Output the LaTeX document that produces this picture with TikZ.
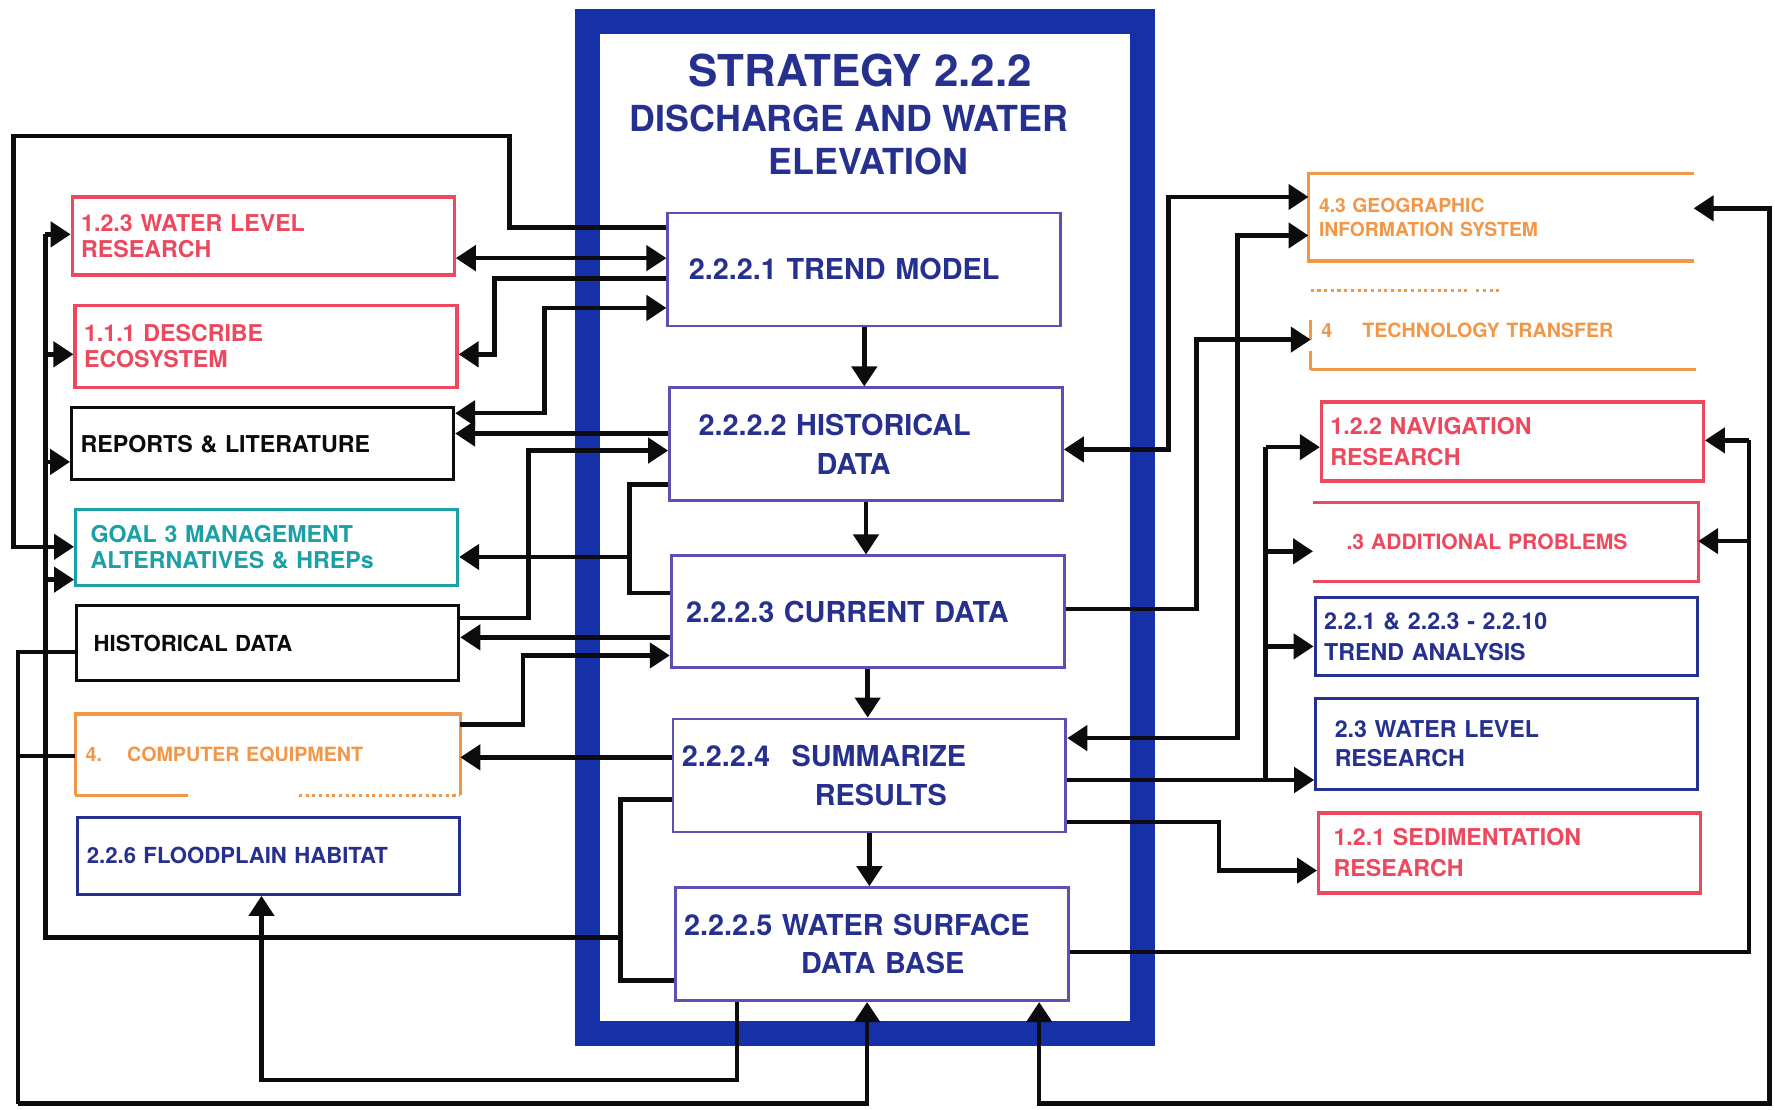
\documentclass[tikz,border=0pt]{standalone}
\usepackage{fontspec}
\setmainfont{TeX Gyre Heros}
\usetikzlibrary{arrows.meta}
\definecolor{FrameBlue}{RGB}{22,48,168}
\definecolor{InkBlue}{RGB}{38,48,142}
\definecolor{BoxViolet}{RGB}{92,80,178}
\definecolor{GoalRed}{RGB}{236,72,94}
\definecolor{GoalTeal}{RGB}{28,160,168}
\definecolor{GisOrange}{RGB}{242,150,72}
\definecolor{LinkBlack}{RGB}{12,12,14}

\begin{document}
\begin{tikzpicture}[x=0.01132cm, y=-0.01132cm,
    stepbox/.style={draw=BoxViolet, line width=0.8pt, fill=white, minimum height=1.13cm,
      text width=3.75cm, inner xsep=0.09cm, align=left, text=InkBlue,
      font=\bfseries\fontsize{8.2}{11}\selectfont},
    sidebox/.style={line width=0.9pt, fill=white, minimum height=0.78cm, text width=3.64cm,
      inner xsep=0.09cm, align=left, font=\bfseries\fontsize{6.6}{7.4}\selectfont},
    redbox/.style={sidebox, draw=GoalRed, text=GoalRed},
    bluebox/.style={sidebox, draw=InkBlue, text=InkBlue},
    blackbox/.style={sidebox, draw=LinkBlack, text=LinkBlack},
    orangebox/.style={sidebox, text=GisOrange, font=\bfseries\fontsize{5.5}{7}\selectfont},
    edge/.style={line width=0.9pt},
    link/.style={LinkBlack, line width=1.3pt},
    arr/.style={link, -{Triangle[length=2mm,width=2.5mm]}},
    darr/.style={link, {Triangle[length=2mm,width=2.5mm]}-{Triangle[length=2mm,width=2.5mm]}}]

    \fill[white] (0,0) rectangle (1568,980);
    \useasboundingbox (0,0) rectangle (1568,980);

    % Marco
    \draw[FrameBlue, line width=7pt] (519,19) rectangle (1009,913);
    \node[text=InkBlue, font=\bfseries\fontsize{12.5}{14}\selectfont] (title) at (760,62) {STRATEGY 2.2.2};
    \node[text=InkBlue, font=\bfseries\fontsize{10.2}{12}\selectfont] (subA) at (750,105) {DISCHARGE AND WATER};
    \node[text=InkBlue, font=\bfseries\fontsize{10.2}{12}\selectfont] (subB) at (767,143) {ELEVATION};

    % Pasos
    \node[stepbox] (b1) at (763.5,238) {\hspace*{0.12cm}2.2.2.1 TREND MODEL};
    \node[stepbox] (b2) at (765,392.5) {\hspace*{0.2cm}2.2.2.2 HISTORICAL\\\hspace*{1.38cm}DATA};
    \node[stepbox, minimum height=1.12cm] (b3) at (766.5,540.5) {\hspace*{0.06cm}2.2.2.3 CURRENT DATA};
    \node[stepbox] (b4) at (768,685) {2.2.2.4\hspace{0.12cm} SUMMARIZE\\\hspace*{1.33cm}RESULTS};
    \node[stepbox] (b5) at (770,834) {2.2.2.5 WATER SURFACE\\\hspace*{1.17cm}DATA BASE};

    % Izquierda
    \node[redbox] (l1) at (232.5,208.5) {1.2.3 WATER LEVEL\\RESEARCH};
    \node[redbox, minimum height=0.815cm] (l2) at (235,306) {1.1.1 DESCRIBE\\ECOSYSTEM};
    \node[blackbox, minimum height=0.72cm] (l3) at (232,392) {REPORTS \& LITERATURE};
    \node[sidebox, draw=GoalTeal, text=GoalTeal, minimum height=0.76cm] (l4) at (235.5,483.5)
      {\hspace*{0.06cm}GOAL 3 MANAGEMENT\\\hspace*{0.06cm}ALTERNATIVES \& HREPs};
    \node[blackbox, minimum height=0.75cm, font=\bfseries\fontsize{6.3}{7.4}\selectfont] (l5) at (236.5,568)
      {\hspace*{0.08cm}HISTORICAL DATA};
    \node[orangebox, font=\bfseries\fontsize{5.6}{7}\selectfont] (l6) at (236.5,666.5) {4.\hspace{0.25cm}COMPUTER EQUIPMENT};
    \draw[GisOrange, edge] (l6.south west) -- (l6.north west) -- (l6.north east) -- (l6.south east);
    \draw[GisOrange, edge] (l6.south west) -- (l6.south -| 166,0);
    \draw[GisOrange, edge, densely dotted] (l6.south -| 264,0) -- (l6.south east);
    \node[bluebox, minimum height=0.77cm, font=\bfseries\fontsize{6.3}{7.4}\selectfont] (l7) at (237.5,756)
      {2.2.6 FLOODPLAIN HABITAT};

    % Derecha
    \node[orangebox, minimum height=0.84cm] (r1) at (1326,192) {4.3 GEOGRAPHIC\\INFORMATION SYSTEM};
    \draw[GisOrange, edge] (r1.north east) -- (r1.north west) -- (r1.south west) -- (r1.south east);
    \node[orangebox, minimum height=0.76cm, font=\bfseries\fontsize{5.6}{7}\selectfont] (r2) at (1328,291.5)
      {4\hspace{0.3cm}TECHNOLOGY TRANSFER};
    \draw[GisOrange, edge] (r2.south west) -- (r2.south east);
    \draw[GisOrange, edge, densely dotted] (r2.north west) -- (r2.north west -| 1296,0);
    \draw[GisOrange, edge, densely dotted] (r2.north west -| 1304,0) -- (r2.north west -| 1325,0);
    \draw[GisOrange, edge] (r2.west |- 0,283) -- (r2.west |- 0,300);
    \draw[GisOrange, edge] (r2.west |- 0,310) -- (r2.south west);
    \node[redbox, minimum height=0.79cm, font=\bfseries\fontsize{6.6}{8.8}\selectfont] (r3) at (1336,390) {1.2.2 NAVIGATION\\RESEARCH};
    \node[sidebox, text=GoalRed, minimum height=0.76cm, font=\bfseries\fontsize{6}{7}\selectfont] (r4) at (1330,478.5)
      {\hspace*{0.23cm}.3 ADDITIONAL PROBLEMS};
    \draw[GoalRed, edge] (r4.north west) -- (r4.north east) -- (r4.south east) -- (r4.south west);
    \node[bluebox, minimum height=0.78cm, font=\bfseries\fontsize{6.6}{9}\selectfont] (r5) at (1330.5,562.5)
      {2.2.1 \& 2.2.3 - 2.2.10\\TREND ANALYSIS};
    \node[bluebox, minimum height=0.91cm, font=\bfseries\fontsize{6.6}{8.4}\selectfont] (r6) at (1331,657)
      {\hspace*{0.1cm}2.3 WATER LEVEL\\\hspace*{0.1cm}RESEARCH};
    \node[redbox, minimum height=0.80cm, font=\bfseries\fontsize{6.6}{8.8}\selectfont] (r7) at (1333.5,753.5)
      {\hspace*{0.06cm}1.2.1 SEDIMENTATION\\\hspace*{0.06cm}RESEARCH};

    % Flechas centrales
    \foreach \a/\b in {b1/b2, b2/b3, b3/b4, b4/b5}
      \draw[arr] (\a.south) -- (\a.south |- \b.north);

    % Enlaces izquierda
    \draw[darr] (l1.east |- 0,228) -- (b1.west |- 0,228);
    \draw[arr] (b1.west |- 0,201) -- (450,201) |- (12,120) |- (l4.west |- 0,483);
    \draw[arr] (b1.west |- 0,246) -| (437,313) -- (l2.east |- 0,313);
    \draw[darr] (l3.east |- 0,365) -| (481,272) -- (b1.west |- 0,272);
    \draw[arr] (b2.west |- 0,383) -- (l3.east |- 0,383);
    \draw[arr] (l5.east |- 0,546) -| (467,398) -- (b2.west |- 0,398);
    \draw[link] (b2.west |- 0,428) -| (556,524) -- (b3.west |- 0,524);
    \draw[arr] (556,492) -- (l4.east |- 0,492);
    \draw[arr] (b3.west |- 0,563) -- (l5.east |- 0,563);
    \draw[arr] (l6.east |- 0,640) -| (462,579) -- (b3.west |- 0,579);
    \draw[arr] (b4.west |- 0,669) -- (l6.east |- 0,669);
    \draw[link] (b4.west |- 0,706) -| (548,866) -- (b5.west |- 0,866);
    \draw[link] (548,828) -| (40,207);
    \foreach \tgt/\yy in {l1/207, l2/313, l3/408, l4/512}
      \draw[arr] (40,\yy) -- (\tgt.west |- 0,\yy);
    \draw[link] (l5.west |- 0,576) -| (16,975);
    \draw[link] (l6.west |- 0,668) -- (16,668);
    \draw[arr] (16,975) -| (b5.south -| 766,0);
    \draw[arr] (b5.south -| 651,0) |- (231,954) -- (l7.south -| 231,0);

    % Enlaces derecha
    \draw[darr] (b2.east |- 0,397) -| (1032,174) -- (r1.west |- 0,174);
    \draw[darr] (b4.east |- 0,652) -| (1093,208) -- (r1.west |- 0,208);
    \draw[arr] (b3.east |- 0,538) -| (1057,300) -- (r2.west |- 0,300);
    \draw[arr] (b4.east |- 0,689) -- (r6.west |- 0,689);
    \draw[link] (1118,689) -- (1118,395);
    \foreach \tgt/\yy in {r3/395, r4/487, r5/571}
      \draw[arr] (1118,\yy) -- (\tgt.west |- 0,\yy);
    \draw[arr] (b4.east |- 0,726) -| (1077,769) -- (r7.west |- 0,769);
    \draw[link] (b5.east |- 0,841) -| (1545,389);
    \foreach \tgt/\yy in {r3/389, r4/478}
      \draw[arr] (1545,\yy) -- (\tgt.east |- 0,\yy);
    \draw[darr] (b5.south -| 918,0) |- (1563,975) |- (r1.east |- 0,184);
\end{tikzpicture}
\end{document}
